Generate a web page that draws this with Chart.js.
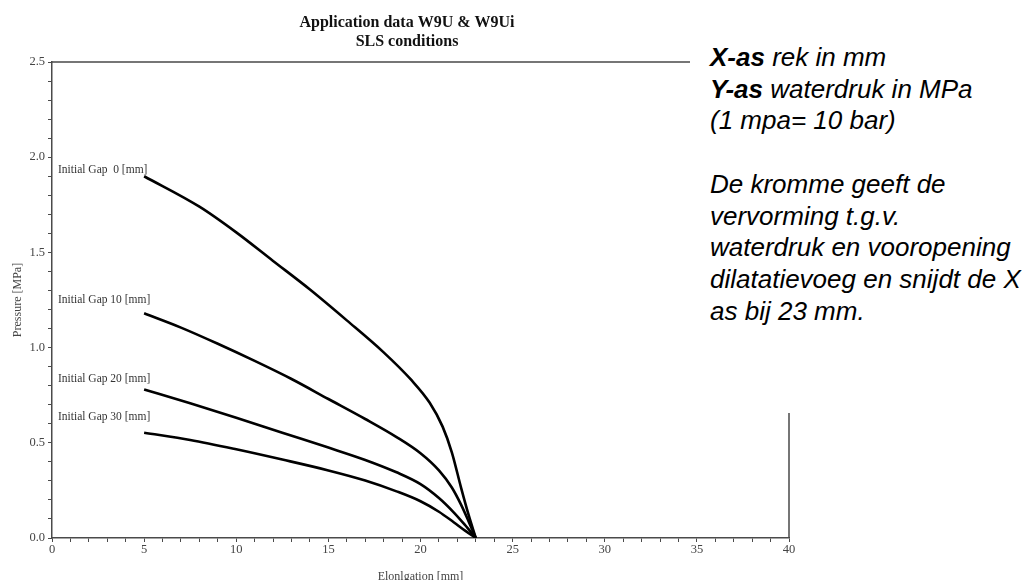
<!DOCTYPE html>
<html>
<head>
<meta charset="utf-8">
<script src="https://cdn.jsdelivr.net/npm/chart.js@4/dist/chart.umd.min.js"></script>
<style>
  html, body { margin: 0; padding: 0; background: #fff; }
  #wrap { position: relative; width: 1034px; height: 580px; overflow: hidden; }
  #c { position: absolute; left: 0; top: 0; }
  #note {
    position: absolute; left: 690px; top: 0; width: 324px; height: 371px;
    padding: 42px 0 0 20px; background: #fff; color: #000;
    font: italic 26px "Liberation Sans", Arial, sans-serif; line-height: 31.7px;
    white-space: nowrap;
  }
  #note b { font-weight: bold; }
</style>
</head>
<body>
<div id="wrap">
  <canvas id="c" width="1034" height="580"></canvas>
  <div id="note"><b>X-as</b> rek in mm<br><b>Y-as</b> waterdruk in MPa<br>(1 mpa= 10 bar)<br><br>De kromme geeft de<br>vervorming t.g.v.<br>waterdruk en vooropening<br>dilatatievoeg en snijdt de X<br>as bij 23 mm.</div>
</div>
<script>
// Chart text
const titleLines = ['Application data W9U & W9Ui', 'SLS conditions'];
const xTitle = 'Elonlgation [mm]';
const yTitle = 'Pressure [MPa]';
const gapLabels = ['Initial Gap  0 [mm]', 'Initial Gap 10 [mm]', 'Initial Gap 20 [mm]', 'Initial Gap 30 [mm]'];

// Elongation [mm] / pressure [MPa] per initial gap
const gap0X  = [5, 8, 10, 12, 14, 16, 18, 19.5, 20.5, 21.2, 21.7, 22.2, 22.6, 23];
const gap0Y  = [1.90, 1.74, 1.605, 1.455, 1.305, 1.143, 0.975, 0.83, 0.71, 0.585, 0.45, 0.265, 0.125, 0];
const gap10X = [5, 7, 9, 11, 13, 15, 17, 18.7, 20, 21, 21.7, 22.2, 22.6, 23];
const gap10Y = [1.18, 1.105, 1.02, 0.93, 0.835, 0.73, 0.625, 0.53, 0.445, 0.355, 0.265, 0.175, 0.09, 0];
const gap20X = [5, 7.5, 10, 12.5, 15, 17, 18.7, 20, 21, 21.8, 22.4, 23];
const gap20Y = [0.78, 0.708, 0.632, 0.553, 0.475, 0.41, 0.345, 0.283, 0.21, 0.135, 0.07, 0];
const gap30X = [5, 7.5, 10, 12.5, 15, 17, 18.7, 20, 21, 21.8, 22.4, 23];
const gap30Y = [0.553, 0.515, 0.466, 0.412, 0.355, 0.302, 0.245, 0.193, 0.138, 0.083, 0.04, 0];

// Axis ranges and tick steps
const xRange = [0, 40];
const yRange = [0, 2.5];
const xLabelEvery = 5;   // labelled x ticks, minor every 1
const yLabelEvery = 0.5; // labelled y ticks, minor every 0.1

const seriesX = [gap0X, gap10X, gap20X, gap30X];
const seriesY = [gap0Y, gap10Y, gap20Y, gap30Y];

// How far each curve label sits above its curve's first point (px)
const labelLift = [6, 13, 11, 15.5];

const serif = '"Liberation Serif", "Times New Roman", serif';
const axisInk = '#4a4a4a';
const tickInk = '#444';

const datasets = seriesX.map((xs, i) => ({
  label: gapLabels[i],
  data: xs.map((x, j) => ({ x: x, y: seriesY[i][j] })),
  borderColor: '#000',
  borderWidth: 2.6,
  pointRadius: 0,
  fill: false,
  cubicInterpolationMode: 'monotone'
}));

const chartText = {
  id: 'chartText',
  afterDraw(chart) {
    const { ctx, chartArea } = chart;
    ctx.save();
    // top and right frame lines
    ctx.strokeStyle = axisInk;
    ctx.lineWidth = 1.5;
    ctx.beginPath();
    ctx.moveTo(chartArea.left, chartArea.top);
    ctx.lineTo(chartArea.right, chartArea.top);
    ctx.lineTo(chartArea.right, chartArea.bottom);
    ctx.stroke();

    // two-line heading
    ctx.fillStyle = '#111';
    ctx.font = 'bold 16px ' + serif;
    ctx.textAlign = 'center';
    ctx.textBaseline = 'alphabetic';
    ctx.fillText(titleLines[0], 407, 27);
    ctx.fillText(titleLines[1], 407, 46);

    // curve labels, left of each curve's start
    ctx.font = '11.5px ' + serif;
    ctx.fillStyle = '#333';
    ctx.textAlign = 'left';
    ctx.textBaseline = 'middle';
    chart.data.datasets.forEach((ds, i) => {
      const first = chart.getDatasetMeta(i).data[0];
      ctx.fillText(ds.label, chartArea.left + 6, first.y - labelLift[i]);
    });
    ctx.restore();
  }
};

new Chart(document.getElementById('c'), {
  type: 'line',
  data: { datasets: datasets },
  plugins: [chartText],
  options: {
    responsive: false,
    animation: false,
    devicePixelRatio: 1,
    layout: { padding: { left: 0, top: 62, right: 245, bottom: 0 } },
    plugins: { legend: { display: false }, tooltip: { enabled: false }, title: { display: false } },
    scales: {
      x: {
        type: 'linear',
        min: xRange[0], max: xRange[1],
        afterFit(s) { s.height = 42; },
        ticks: {
          stepSize: 1, autoSkip: false, maxRotation: 0, padding: 0,
          color: tickInk, font: { family: serif, size: 12.5 },
          callback: (v) => (Math.abs(v / xLabelEvery - Math.round(v / xLabelEvery)) < 1e-6 ? String(v) : '')
        },
        grid: { drawOnChartArea: false, drawTicks: true, tickLength: 4, color: axisInk, lineWidth: 1 },
        border: { display: true, color: axisInk, width: 1.5 },
        title: {
          display: true, text: xTitle, color: tickInk,
          font: { family: serif, size: 12 }, padding: { top: 0, bottom: -4 }
        }
      },
      y: {
        type: 'linear',
        min: yRange[0], max: yRange[1],
        afterFit(s) { s.width = 52; },
        ticks: {
          stepSize: 0.1, autoSkip: false, padding: 3,
          color: tickInk, font: { family: serif, size: 12.5 },
          callback: (v) => (Math.abs(v / yLabelEvery - Math.round(v / yLabelEvery)) < 1e-6 ? v.toFixed(1) : '')
        },
        grid: { drawOnChartArea: false, drawTicks: true, tickLength: 4, color: axisInk, lineWidth: 1 },
        border: { display: true, color: axisInk, width: 1.5 },
        title: {
          display: true, text: yTitle, color: tickInk,
          font: { family: serif, size: 12 }, padding: { top: 11, bottom: 0 }
        }
      }
    }
  }
});
</script>
</body>
</html>
